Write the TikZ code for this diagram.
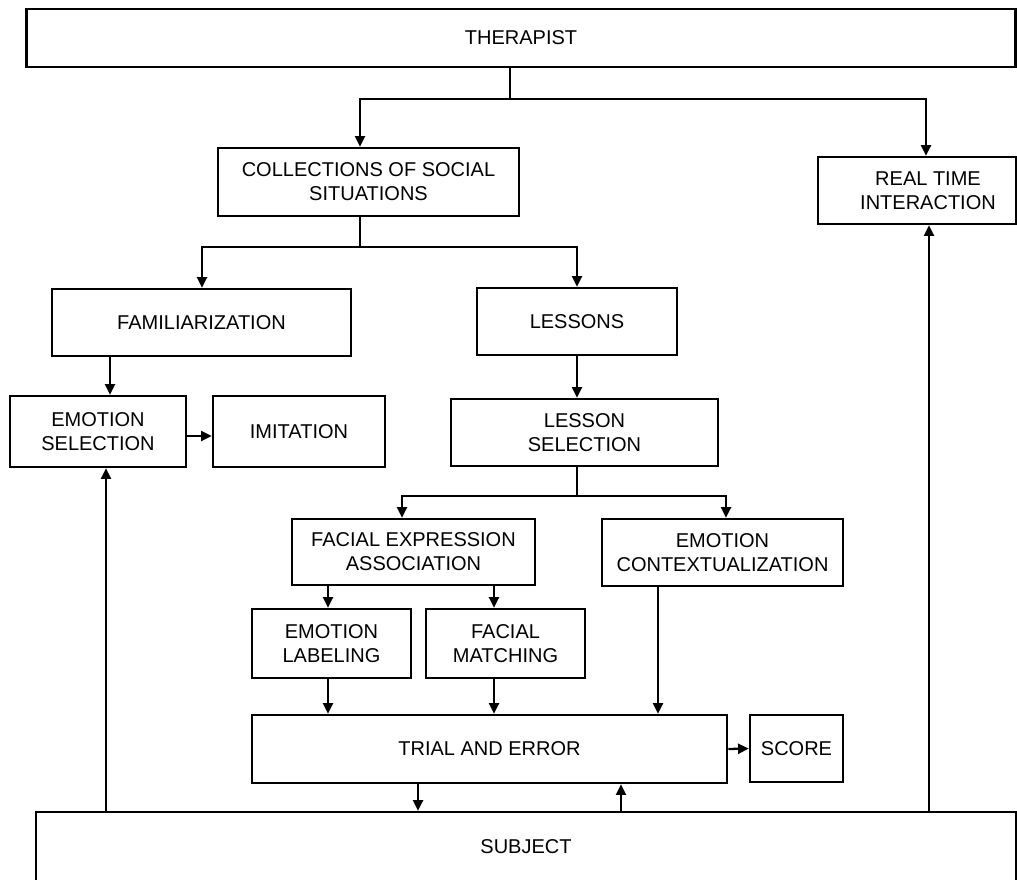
\documentclass[tikz,border=0pt]{standalone}
\usepackage{fontspec}
\setmainfont{Liberation Sans}
\usetikzlibrary{arrows.meta}
\begin{document}
\begin{tikzpicture}[x=0.75pt,y=-0.75pt]
\tikzset{
  bx/.style 2 args={draw, line width=1.9pt, minimum width=#1*0.75pt, minimum height=#2*0.75pt, inner sep=0pt, align=center, font=\fontsize{15}{18}\selectfont},
  lbl/.style={align=center, inner sep=0pt, font=\fontsize{15}{18}\selectfont},
  ln/.style={line width=1.7pt},
  ar/.style={ln, -{Triangle[length=8pt,width=7.5pt]}},
}
\useasboundingbox (0,0) rectangle (1017,879);
\fill[white] (0,0) rectangle (1017,879);
\clip (0,0) rectangle (1017,879);

% boxes
\node[bx={989}{58}] (ther) at (521,38) {THERAPIST};
\node[bx={301}{68}] (coll) at (368.5,182) {COLLECTIONS OF SOCIAL\\SITUATIONS};
\node[bx={198}{67}] (rti) at (917,190.5) {};
\node[lbl] (rtit) at (928,190.5) {REAL TIME\\INTERACTION};
\node[bx={299}{67}] (fam) at (201.5,322.5) {FAMILIARIZATION};
\node[bx={200}{67}] (les) at (577,321.5) {LESSONS};
\node[bx={176}{71}] (es) at (98,431.5) {EMOTION\\SELECTION};
\node[bx={172}{71}] (imi) at (299,431.5) {IMITATION};
\node[bx={267}{67}] (ls) at (584.5,432.5) {LESSON\\SELECTION};
\node[bx={243}{66}] (fea) at (413.5,552) {FACIAL EXPRESSION\\ASSOCIATION};
\node[bx={241}{67}] (ectx) at (722.5,552.5) {EMOTION\\CONTEXTUALIZATION};
\node[bx={159}{69}] (el) at (331.5,643.5) {EMOTION\\LABELING};
\node[bx={159}{69}] (fm) at (505.5,643.5) {FACIAL\\MATCHING};
\node[bx={475}{68}] (tae) at (489.5,749) {TRIAL AND ERROR};
\node[bx={93}{67}] (score) at (796.5,748.5) {SCORE};
\node[bx={980}{70}] (subj) at (526,847) {SUBJECT};

% junction coordinates
\coordinate (jT) at (510,99);
\coordinate (jTL) at (360,99);
\coordinate (jTR) at (926,99);
\coordinate (jC) at (360,247);
\coordinate (jCL) at (202,247);
\coordinate (jCR) at (577,247);
\coordinate (jL) at (577,496);
\coordinate (jLL) at (402,496);
\coordinate (jLR) at (726,496);
\coordinate (xFam) at (110,0);
\coordinate (yImi) at (0,436);
\coordinate (xEL) at (328,0);
\coordinate (xFM) at (494,0);
\coordinate (xEC) at (658,0);
\coordinate (xDown) at (418,0);
\coordinate (xUp) at (621,0);
\coordinate (xES) at (106,0);
\coordinate (xRT) at (929,0);

% connectors
\draw[ln] (jT |- ther.south) -- (jT);
\draw[ar] (jT) -- (jTL) -- (jTL |- coll.north);
\draw[ar] (jT) -- (jTR) -- (jTR |- rti.north);
\draw[ln] (jC |- coll.south) -- (jC);
\draw[ar] (jC) -- (jCL) -- (jCL |- fam.north);
\draw[ar] (jC) -- (jCR) -- (jCR |- les.north);
\draw[ar] (xFam |- fam.south) -- (xFam |- es.north);
\draw[ar] (es.east |- yImi) -- (imi.west |- yImi);
\draw[ar] (les.south) -- (les.south |- ls.north);
\draw[ln] (jL |- ls.south) -- (jL);
\draw[ar] (jL) -- (jLL) -- (jLL |- fea.north);
\draw[ar] (jL) -- (jLR) -- (jLR |- ectx.north);
\draw[ar] (xEL |- fea.south) -- (xEL |- el.north);
\draw[ar] (xFM |- fea.south) -- (xFM |- fm.north);
\draw[ar] (xEL |- el.south) -- (xEL |- tae.north);
\draw[ar] (xFM |- fm.south) -- (xFM |- tae.north);
\draw[ar] (xEC |- ectx.south) -- (xEC |- tae.north);
\draw[ar] (tae.east) -- (score.west);
\draw[ar] (xDown |- tae.south) -- (xDown |- subj.north);
\draw[ar] (xUp |- subj.north) -- (xUp |- tae.south);
\draw[ar] (xES |- subj.north) -- (xES |- es.south);
\draw[ar] (xRT |- subj.north) -- (xRT |- rti.south);
\end{tikzpicture}
\end{document}
